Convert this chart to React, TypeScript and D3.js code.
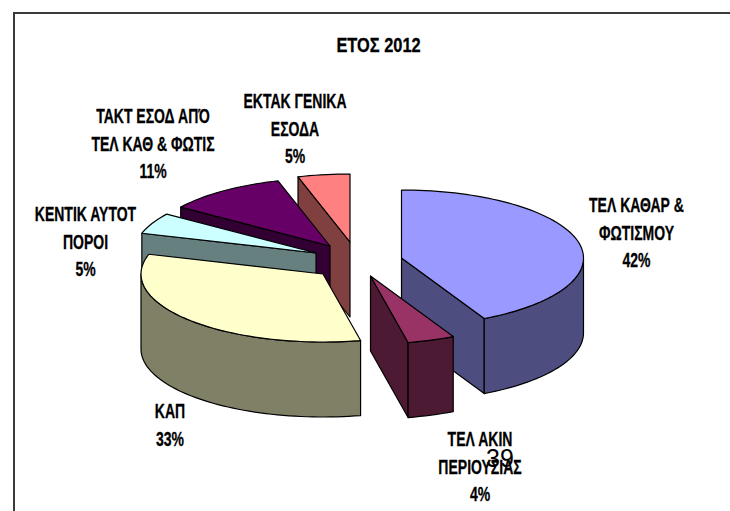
import React from "react";
import * as d3 from "d3";

const categories = ["ΤΕΛ ΚΑΘΑΡ & ΦΩΤΙΣΜΟΥ", "ΤΕΛ ΑΚΙΝ ΠΕΡΙΟΥΣΙΑΣ", "ΚΑΠ", "ΚΕΝΤΙΚ ΑΥΤΟΤ ΠΟΡΟΙ", "ΤΑΚΤ ΕΣΟΔ ΑΠΌ ΤΕΛ ΚΑΘ & ΦΩΤΙΣ", "ΕΚΤΑΚ ΓΕΝΙΚΑ ΕΣΟΔΑ"];
const values = [42.49, 4.2, 33.0, 5.0, 10.7, 4.61];
const labelLines = [
  ["ΤΕΛ ΚΑΘΑΡ &", "ΦΩΤΙΣΜΟΥ"],
  ["ΤΕΛ ΑΚΙΝ", "ΠΕΡΙΟΥΣΙΑΣ"],
  ["ΚΑΠ"],
  ["ΚΕΝΤΙΚ ΑΥΤΟΤ", "ΠΟΡΟΙ"],
  ["ΤΑΚΤ ΕΣΟΔ ΑΠΌ", "ΤΕΛ ΚΑΘ & ΦΩΤΙΣ"],
  ["ΕΚΤΑΚ ΓΕΝΙΚΑ", "ΕΣΟΔΑ"],
];
const topColors = ["#9999FF", "#993366", "#FFFFCC", "#CCFFFF", "#660066", "#FF8080"];
const title = "ΕΤΟΣ 2012";
const pageNumber = "39";

// layout
const rx = 182, ry = 68, depth = 75;
const apexes: [number, number][] = [[401.5, 258], [370.5, 276], [323, 274], [316, 253], [330, 246], [350, 242]];
const labelAnchors: [number, number][] = [[636.5, 212], [480, 446], [170, 418], [85.5, 221], [153, 123], [295, 108]];
const lineGap = 27.5;
const drawOrder = [5, 4, 3, 2, 0, 1];
const font = "'Liberation Sans',Arial,sans-serif";
const fontSize = 20;
const squeeze = 0.7;

const arcs = d3.pie<number>().sort(null).value((d) => d)(values);
const line = d3.line();

const Squeezed = ({ x, y, sx, children }: { x: number; y: number; sx: number; children: React.ReactNode }) => (
  <text transform={`translate(${x},${y}) scale(${sx},1)`}>{children}</text>
);

export default function App() {
  const faces = drawOrder.map((i) => {
    const a = arcs[i];
    const [ax, ay] = apexes[i];
    const pt = (t: number): [number, number] => [ax + rx * Math.sin(t), ay - ry * Math.cos(t)];
    const n = Math.max(2, Math.ceil((a.endAngle - a.startAngle) * 30));
    const ts = d3.range(n + 1).map((k) => a.startAngle + ((a.endAngle - a.startAngle) * k) / n);
    const arcPts = ts.map(pt);
    const top = line([[ax, ay], ...arcPts])! + "Z";
    const c = d3.rgb(topColors[i]);
    const wallColor = d3.rgb(c.r / 2, c.g / 2, c.b / 2).formatHex();
    const walls: string[] = [];
    // radial face seen by the viewer
    const radial = (t: number) => {
      const p = pt(t);
      walls.push(line([[ax, ay], p, [p[0], p[1] + depth], [ax, ay + depth]])! + "Z");
    };
    if (Math.sin(a.endAngle) > 0.01) radial(a.endAngle);
    if (Math.sin(a.startAngle) < -0.01) radial(a.startAngle);
    // outer rim seen by the viewer
    const vis = ts.filter((t) => Math.cos(t) <= 0.02);
    if (vis.length > 1) {
      const up = vis.map(pt);
      const down = up.slice().reverse().map(([x, y]) => [x, y + depth] as [number, number]);
      walls.push(line([...up, ...down])! + "Z");
    }
    return { i, top, walls, wallColor };
  });

  return (
    <svg width={730} height={511} style={{ position: "absolute", left: 0, top: 0 }}>
      <rect width={730} height={511} fill="#fff" />
      <path d="M14,511V13H730" fill="none" stroke="#3a3a3a" strokeWidth={2} />
      <g stroke="#000" strokeWidth={1.2} strokeLinejoin="round">
        {faces.map((f) => (
          <g key={f.i}>
            {f.walls.map((d, k) => (
              <path key={k} d={d} fill={f.wallColor} />
            ))}
            <path d={f.top} fill={topColors[f.i]} />
          </g>
        ))}
      </g>
      <g fontFamily={font} fontWeight="bold" fontSize={fontSize} textAnchor="middle" fill="#000" stroke="#000" strokeWidth={0.3}>
        <Squeezed x={378.5} y={52} sx={0.82}>{title}</Squeezed>
        {categories.map((c, i) => {
          const lines = labelLines[i];
          const [x, y] = labelAnchors[i];
          return (
            <g key={c}>
              {lines.map((l, k) => (
                <Squeezed key={k} x={x} y={y + k * lineGap} sx={squeeze}>{l}</Squeezed>
              ))}
              <Squeezed x={x} y={y + lines.length * lineGap} sx={squeeze}>{d3.format(".0f")(values[i])}%</Squeezed>
            </g>
          );
        })}
      </g>
      <text x={500} y={467} fontFamily={font} fontSize={25} textAnchor="middle" fill="#000">{pageNumber}</text>
    </svg>
  );
}
